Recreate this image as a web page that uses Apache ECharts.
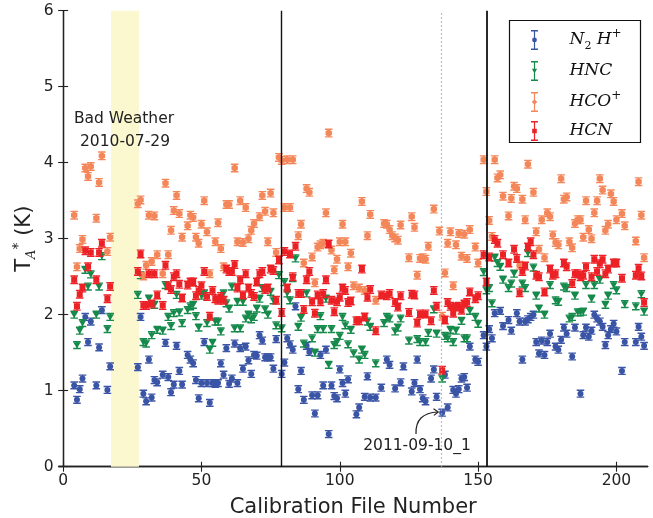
<!DOCTYPE html>
<html>
<head>
<meta charset="utf-8">
<script src="https://cdn.jsdelivr.net/npm/echarts@6/dist/echarts.min.js"></script>
<style>
  html, body { margin: 0; padding: 0; background: #fff; }
  #chart { width: 653px; height: 518px; }
</style>
</head>
<body>
<div id="chart"></div>
<script>
// Antenna temperature per calibration file, one list of [file, T_A*] per line.
const n2hp = [[4,1.07],[5,0.88],[6,1.02],[7,1.16],[8,1.97],[9,1.64],[10,1.91],[12,1.07],[13,1.57],[14,2.06],[16,1.01],[17,1.32],
  [27,1.31],[28,1.97],[29,0.96],[30,0.86],[31,1.41],[32,0.91],[33,1.14],[34,1.11],[36,1.21],[37,1.63],[38,1.18],[39,0.98],[40,1.08],[41,1.59],[42,1.26],[43,1.08],[45,1.47],[46,1.41],[47,1.36],[48,1.14],[49,0.90],
  [50,1.10],[51,1.64],[52,1.10],[53,0.84],[54,1.10],[55,1.09],[56,1.10],[57,1.36],[58,1.21],[59,1.56],[60,1.09],[61,1.16],[62,1.62],[63,1.10],[64,1.56],[65,1.29],[66,1.58],[67,1.40],[68,1.22],[69,1.47],
  [70,1.46],[71,1.73],[72,1.66],[73,1.44],[74,1.44],[75,1.44],[76,1.29],[77,1.68],[79,1.22],[80,1.37],[81,1.69],[82,1.61],[83,1.54],[84,2.11],[85,1.02],[86,1.26],[87,0.88],[88,1.59],[89,1.51],[90,0.94],[91,0.70],[92,0.94],[93,1.47],[94,1.07],[95,1.54],[96,0.43],[97,1.07],[98,0.93],[99,0.90],[100,1.28],[101,1.10],[102,0.96],[103,1.15],
  [106,0.69],[107,0.78],[109,0.92],[110,1.19],[111,0.91],[113,0.91],[115,1.04],[117,1.41],[118,1.34],[120,1.03],[122,1.11],[123,1.32],[126,0.99],[127,1.10],[128,1.41],[129,1.02],[130,0.90],[131,0.86],[133,1.16],[134,1.28],[135,0.92],[137,0.71],
  [138,1.21],[139,0.78],[141,1.01],[142,0.96],[143,1.02],[144,1.16],[145,1.18],[146,1.04],[147,1.58],[149,1.41],[150,1.38],[152,1.73],[153,1.58],[154,1.81],[155,1.69],[156,2.02],[158,2.05],[159,1.85],[161,1.93],[162,1.79],[164,2.02],[165,1.91],[166,1.41],[167,1.91],[168,1.94],[169,1.97],[170,2.00],[171,1.64],[172,1.49],
  [173,1.66],[174,1.47],[175,1.64],[176,1.75],[178,1.58],[179,1.54],[180,1.67],[181,1.83],[182,1.75],[184,1.45],[185,1.83],[187,0.96],[188,1.73],[189,1.83],[190,1.71],[191,1.79],[192,2.00],[193,1.95],[194,1.91],[195,1.84],[196,1.60],[197,1.73],[198,1.81],[199,1.88],[200,1.78],[202,1.26],[203,1.64],[207,1.64],[208,1.84],[209,1.71],[210,1.59]];

const hnc = [[4,2.00],[5,1.60],[6,1.79],[7,1.89],[8,2.59],[9,2.37],[10,2.53],[12,2.00],[13,2.37],[14,2.77],[16,1.81],[17,1.97],
  [27,2.26],[28,2.52],[29,1.64],[30,1.62],[31,2.21],[32,1.73],[33,2.13],[34,1.80],[36,1.79],[37,2.39],[38,1.97],[39,1.85],[40,2.02],[41,2.26],[42,2.03],[43,1.89],[45,2.06],[46,2.11],[47,2.13],[48,1.98],[49,1.83],
  [50,2.25],[51,2.28],[52,1.89],[53,1.54],[54,1.63],[55,1.91],[56,1.91],[57,1.78],[58,2.28],[59,2.15],[60,2.08],[61,2.37],[62,1.82],[63,2.17],[64,1.82],[65,2.17],[66,1.95],[67,2.00],[68,1.94],[69,1.97],
  [70,2.08],[71,2.21],[72,2.35],[73,2.07],[74,2.00],[75,2.30],[76,2.19],[77,1.86],[78,2.52],[79,1.82],[80,2.43],[81,2.28],[82,2.19],[83,2.48],[84,2.74],[85,1.84],[86,1.96],[87,1.62],[88,2.28],[90,1.69],[91,1.50],[92,1.81],[93,1.98],[94,1.81],[95,2.21],[96,1.34],[97,1.81],[98,1.60],[99,1.64],[100,1.72],[101,1.97],[102,1.86],[103,1.61],
  [104,1.80],[105,1.49],[107,1.41],[108,1.54],[109,1.47],[110,1.91],[111,1.84],[113,1.36],[116,1.89],[117,1.97],[118,1.95],[120,1.78],[121,1.83],[122,1.95],[125,1.66],[128,1.68],[129,1.64],[131,1.64],[132,1.76],[134,2.07],[135,1.75],[137,1.16],
  [138,1.72],[139,1.69],[140,1.80],[141,1.64],[142,1.79],[144,1.92],[145,1.69],[146,1.69],[147,2.05],[149,1.97],[150,1.88],[152,2.56],[153,2.32],[154,2.35],[155,2.15],[156,2.75],[157,2.68],[158,2.63],[159,2.46],[161,2.35],[162,2.41],[163,2.54],[166,2.41],[167,2.35],[168,2.81],[170,2.62],[171,2.25],
  [172,2.08],[174,2.00],[176,2.39],[178,2.19],[179,2.17],[181,2.37],[182,2.35],[183,1.95],[184,1.97],[185,2.25],[186,2.03],[187,2.03],[188,2.04],[189,2.39],[191,2.21],[192,2.39],[194,2.46],[196,2.13],[197,2.25],[199,2.39],[200,2.32],[203,2.14],[207,2.11],[209,2.27],[210,2.04]];

const hcop = [[4,3.31],[5,2.63],[6,2.87],[7,2.99],[8,3.93],[9,3.82],[10,3.95],[12,3.27],[13,3.74],[14,4.09],[16,2.83],[17,3.02],
  [27,3.46],[28,3.51],[29,2.51],[30,2.65],[31,3.31],[32,2.70],[33,3.30],[34,2.79],[36,2.54],[37,3.73],[38,2.79],[39,3.11],[40,3.37],[41,3.57],[42,3.33],[43,3.02],[45,3.17],[46,3.31],[47,3.28],[48,3.02],[49,2.94],
  [50,3.19],[51,3.50],[52,3.09],[53,2.54],[55,2.96],[56,3.21],[57,2.87],[58,2.63],[59,3.45],[60,3.45],[62,3.93],[63,2.96],[64,3.50],[65,2.95],[66,3.41],[67,3.00],[68,3.11],[69,3.20],
  [71,3.29],[72,3.57],[73,3.36],[74,2.96],[75,3.60],[76,3.34],[77,2.82],[78,4.07],[79,4.03],[80,3.41],[81,4.04],[82,3.41],[83,4.04],[85,3.04],[86,3.19],[87,2.68],[88,3.66],[89,3.61],[90,2.76],[91,2.42],[92,2.89],[93,2.92],[94,2.94],[95,3.34],[96,4.39],[97,2.85],[98,2.59],[99,2.73],[100,2.96],[101,3.19],[102,2.96],[103,2.63],
  [104,2.81],[105,2.38],[107,2.35],[108,3.49],[109,2.32],[110,3.04],[111,3.32],[113,2.19],[116,3.20],[117,3.19],[118,3.12],[119,3.04],[120,3.01],[121,2.98],[122,3.18],[125,2.75],[126,3.29],[127,3.15],[128,2.52],[129,2.74],[130,2.75],[131,2.73],[132,2.90],[134,3.39],[136,3.10],[137,1.98],
  [138,2.55],[139,2.94],[140,3.09],[141,2.38],[142,2.92],[143,3.07],[144,2.77],[145,3.06],[146,2.74],[147,3.12],[149,2.89],[150,2.68],[152,4.04],[153,3.62],[154,3.24],[155,3.03],[156,4.04],[157,3.80],[158,3.84],[159,3.56],[161,3.30],[162,3.53],[163,3.69],[164,3.66],[165,2.65],[166,3.52],[167,3.25],[168,3.98],[170,3.61],[171,3.09],
  [172,2.86],[173,3.25],[174,2.75],[175,3.34],[176,3.29],[177,3.05],[178,2.95],[179,2.92],[180,3.79],[181,3.52],[182,3.55],[183,2.96],[184,2.88],[185,3.20],[186,3.25],[187,3.25],[188,3.02],[189,3.50],[190,3.12],[191,3.00],[192,3.34],[193,3.50],[194,3.79],[195,3.64],[196,3.11],[197,3.19],[198,3.59],[199,3.49],[200,3.25],[202,3.33],[203,3.17],[207,2.97],[208,3.75],[209,3.31],[210,2.75]];

const hcn = [[4,2.46],[5,2.11],[6,2.27],[7,2.35],[8,2.84],[9,2.63],[10,2.82],[12,2.46],[13,2.82],[14,2.94],[16,2.21],[17,2.37],
  [27,2.57],[28,2.80],[29,2.12],[30,2.12],[31,2.54],[32,2.14],[33,2.54],[34,2.26],[36,2.12],[37,2.65],[38,2.38],[39,2.33],[40,2.50],[41,2.54],[42,2.40],[43,2.22],[45,2.39],[46,2.43],[47,2.43],[48,2.25],[49,2.32],
  [50,2.38],[51,2.57],[52,2.24],[53,1.98],[54,2.32],[55,2.21],[56,2.19],[57,2.24],[58,2.19],[59,2.60],[60,2.57],[61,2.57],[62,2.66],[63,2.35],[64,2.46],[65,2.26],[66,2.54],[67,2.35],[68,2.28],[69,2.24],
  [70,2.43],[71,2.54],[72,2.57],[73,2.33],[74,2.35],[75,2.60],[76,2.58],[77,2.19],[78,2.72],[79,2.03],[80,2.83],[81,2.35],[82,2.80],[83,2.50],[84,2.90],[85,2.28],[86,2.28],[87,2.07],[88,2.46],[89,2.57],[90,2.17],[91,2.02],[92,2.26],[93,2.17],[94,2.28],[95,2.46],[96,2.93],[97,2.19],[98,2.04],[99,2.17],[100,2.23],[101,2.35],[102,2.32],[103,2.16],
  [104,2.18],[106,1.92],[107,1.92],[108,2.60],[109,1.97],[110,2.23],[111,2.33],[113,1.79],[115,2.26],[117,2.25],[118,2.28],[120,2.16],[121,2.10],[122,2.25],[125,2.03],[126,2.27],[127,2.26],[128,1.89],[129,2.01],[131,2.01],[133,1.92],[134,2.32],[135,2.11],[137,1.27],
  [138,1.93],[139,2.16],[140,2.11],[141,2.02],[142,2.10],[143,2.11],[144,2.06],[145,2.14],[146,2.16],[147,2.30],[149,2.21],[150,2.25],[152,2.79],[153,2.43],[154,2.76],[156,2.99],[157,2.94],[159,2.79],[161,2.68],[163,2.86],[164,2.74],[165,2.29],[166,2.57],[167,2.64],[168,2.89],[169,2.96],[170,2.79],[171,2.52],
  [172,2.50],[174,2.30],[176,2.60],[177,2.52],[178,2.54],[181,2.68],[182,2.63],[184,2.41],[185,2.54],[186,2.54],[187,2.50],[188,2.52],[189,2.63],[191,2.50],[192,2.73],[193,2.57],[194,2.67],[195,2.73],[196,2.54],[197,2.60],[199,2.68],[200,2.68],[202,2.48],[207,2.52],[208,2.61],[209,2.51],[210,2.16]];

// Typical 1-sigma uncertainty on each line (K)
const errN2hp = 0.045, errHnc = 0.045, errHcop = 0.05, errHcn = 0.05;

const xTicks = [0, 50, 100, 150, 200];
const badWeather = [17.3, 27.4];      // file range lost to weather
const sessionBreaks = [78.7, 153.1];  // solid separators
const flaggedFile = 136.8;            // 2011-09-10_1

const FONT = '"DejaVu Sans", sans-serif';
const INK = '#222';
const C_BLUE = '#3b55a6', C_GREEN = '#168a4b', C_ORANGE = '#f4875a', C_RED = '#ec2126';

function markerShape(kind, cx, cy, color) {
  if (kind === 'circle') return { type: 'circle', shape: { cx, cy, r: 3 }, style: { fill: color } };
  if (kind === 'tri') return { type: 'polygon', shape: { points: [[cx - 3.7, cy - 2.8], [cx + 3.7, cy - 2.8], [cx, cy + 3.4]] }, style: { fill: color } };
  if (kind === 'hex') {
    const pts = [];
    for (let k = 0; k < 6; k++) { const a = Math.PI / 6 + k * Math.PI / 3; pts.push([cx + 3.7 * Math.cos(a), cy + 3.7 * Math.sin(a)]); }
    return { type: 'polygon', shape: { points: pts }, style: { fill: color } };
  }
  return { type: 'rect', shape: { x: cx - 3, y: cy - 3, width: 6, height: 6 }, style: { fill: color } };
}

function errSeries(name, data, kind, color, err) {
  return {
    type: 'custom', name, data, clip: true, z: 3,
    itemStyle: { color },
    encode: { x: 0, y: 1 },
    renderItem(params, api) {
      const x = api.value(0), y = api.value(1);
      const c = api.coord([x, y]);
      const t = api.coord([x, y + err]);
      const b = api.coord([x, y - err]);
      const cap = 3.8;
      const ls = { stroke: color, lineWidth: 1.4 };
      return {
        type: 'group',
        children: [
          { type: 'line', shape: { x1: c[0], y1: t[1], x2: c[0], y2: b[1] }, style: ls },
          { type: 'line', shape: { x1: c[0] - cap, y1: t[1], x2: c[0] + cap, y2: t[1] }, style: ls },
          { type: 'line', shape: { x1: c[0] - cap, y1: b[1], x2: c[0] + cap, y2: b[1] }, style: ls },
          markerShape(kind, c[0], c[1], color)
        ]
      };
    }
  };
}

// Legend glyphs: error bar with caps plus the marker
const BAR = 'M1.5 0H8.5V1.4H5.6V18.6H8.5V20H1.5V18.6H4.4V1.4H1.5Z';
const ICONS = {
  'N2H+': 'path://' + BAR + 'M5 7.6A2.4 2.4 0 1 1 5 12.4A2.4 2.4 0 1 1 5 7.6Z',
  'HNC': 'path://' + BAR + 'M2.4 7.8H7.6L5 12.4Z',
  'HCO+': 'path://' + BAR + 'M5 7.2L7.7 10L5 12.8L2.3 10Z',
  'HCN': 'path://' + BAR + 'M2.7 7.7H7.3V12.3H2.7Z'
};
const LABELS = {
  'N2H+': '{g|}{i|N}{s|2}{i| H}{p|+}',
  'HNC': '{g|}{i|HNC}',
  'HCO+': '{g|}{i|HCO}{p|+}',
  'HCN': '{g|}{i|HCN}'
};

const axisLine = { show: true, lineStyle: { color: INK, width: 1.3 } };
const tickIn = { show: true, inside: true, length: 5, lineStyle: { color: INK, width: 1.1 } };

const chart = echarts.init(document.getElementById('chart'), null, { renderer: 'canvas' });

chart.setOption({
  animation: false,
  backgroundColor: '#fff',
  grid: { left: 58.7, right: 5.3, top: 10.7, bottom: 51.3, containLabel: false, outerBoundsMode: 'none' },
  xAxis: [
    {
      type: 'value', min: -1.6, max: 211.3, position: 'bottom',
      name: 'Calibration File Number', nameLocation: 'middle', nameGap: 30, nameMoveOverlap: false,
      nameTextStyle: { fontFamily: FONT, fontSize: 21, color: INK },
      axisLine, splitLine: { show: false },
      axisTick: Object.assign({ customValues: xTicks }, tickIn),
      axisLabel: { customValues: xTicks, fontFamily: FONT, fontSize: 15.5, color: INK, margin: 6 }
    },
    {
      type: 'value', min: -1.6, max: 211.3, position: 'top',
      axisLine, splitLine: { show: false },
      axisTick: Object.assign({ customValues: xTicks }, tickIn),
      axisLabel: { show: false }
    }
  ],
  yAxis: [
    {
      type: 'value', min: 0, max: 6, interval: 1, position: 'left',
      name: '{t|T}{a|A}{s|*}{t| (K)}', nameLocation: 'middle', nameGap: 21, nameRotate: 90, nameMoveOverlap: false,
      nameTextStyle: {
        color: INK,
        rich: {
          t: { fontFamily: FONT, fontSize: 21, color: INK, lineHeight: 26 },
          a: { fontFamily: '"DejaVu Serif", serif', fontStyle: 'italic', fontSize: 13, color: INK, verticalAlign: 'bottom', lineHeight: 13 },
          s: { fontFamily: FONT, fontSize: 14, color: INK, verticalAlign: 'top', lineHeight: 14 }
        }
      },
      axisLine, splitLine: { show: false }, axisTick: tickIn,
      axisLabel: { fontFamily: FONT, fontSize: 15.5, color: INK, margin: 5 }
    },
    {
      type: 'value', min: 0, max: 6, interval: 1, position: 'right',
      axisLine, splitLine: { show: false }, axisTick: tickIn,
      axisLabel: { show: false }
    }
  ],
  legend: {
    z: 30,
    orient: 'vertical', left: 531, top: 28, padding: 0,
    itemWidth: 10, itemHeight: 20, itemGap: 9,
    data: Object.keys(ICONS).map(n => ({ name: n, icon: ICONS[n] })),
    formatter: n => LABELS[n],
    textStyle: {
      rich: {
        g: { width: 25 },
        i: { fontFamily: '"DejaVu Serif", serif', fontStyle: 'italic', fontSize: 17, color: '#111', lineHeight: 24 },
        s: { fontFamily: '"DejaVu Serif", serif', fontSize: 11, color: '#111', verticalAlign: 'bottom', lineHeight: 11 },
        p: { fontFamily: '"DejaVu Serif", serif', fontSize: 12, color: '#111', verticalAlign: 'top', lineHeight: 12 }
      }
    },
    selectedMode: false
  },
  graphic: [
    { type: 'rect', z: 10, shape: { x: 509.5, y: 20.5, width: 131, height: 122 }, style: { fill: '#fff', stroke: '#111', lineWidth: 1.2 } },
    { type: 'text', z: 20, x: 124, y: 119, style: { text: 'Bad Weather', font: '15.5px ' + FONT, fill: INK, align: 'center', verticalAlign: 'middle' } },
    { type: 'text', z: 20, x: 125, y: 142, style: { text: '2010-07-29', font: '15.5px ' + FONT, fill: INK, align: 'center', verticalAlign: 'middle' } },
    { type: 'text', z: 20, x: 417, y: 446, style: { text: '2011-09-10_1', font: '15.5px ' + FONT, fill: INK, align: 'center', verticalAlign: 'middle' } },
    { type: 'bezierCurve', z: 20, shape: { x1: 416, y1: 434, x2: 438, y2: 412, cpx1: 415, cpy1: 413 }, style: { stroke: INK, lineWidth: 1.2, fill: null } },
    { type: 'polyline', z: 20, shape: { points: [[433.5, 408.8], [438.3, 412], [433.9, 415.4]] }, style: { stroke: INK, lineWidth: 1.2, fill: null } }
  ],
  series: [
    {
      type: 'scatter', name: 'markers', data: [], z: 1, silent: true,
      markArea: {
        silent: true,
        itemStyle: { color: '#fbf7cf' },
        data: [[{ xAxis: badWeather[0] }, { xAxis: badWeather[1] }]]
      },
      markLine: {
        silent: true, symbol: ['none', 'none'], label: { show: false },
        data: [
          { xAxis: sessionBreaks[0], lineStyle: { color: '#111', width: 1.4, type: 'solid' } },
          { xAxis: sessionBreaks[1], lineStyle: { color: '#111', width: 1.8, type: 'solid' } },
          { xAxis: flaggedFile, lineStyle: { color: '#aaa', width: 1.2, type: [1.5, 2.5] } }
        ]
      }
    },
    errSeries('N2H+', n2hp, 'circle', C_BLUE, errN2hp),
    errSeries('HNC', hnc, 'tri', C_GREEN, errHnc),
    errSeries('HCO+', hcop, 'hex', C_ORANGE, errHcop),
    errSeries('HCN', hcn, 'rect', C_RED, errHcn)
  ]
});
</script>
</body>
</html>
